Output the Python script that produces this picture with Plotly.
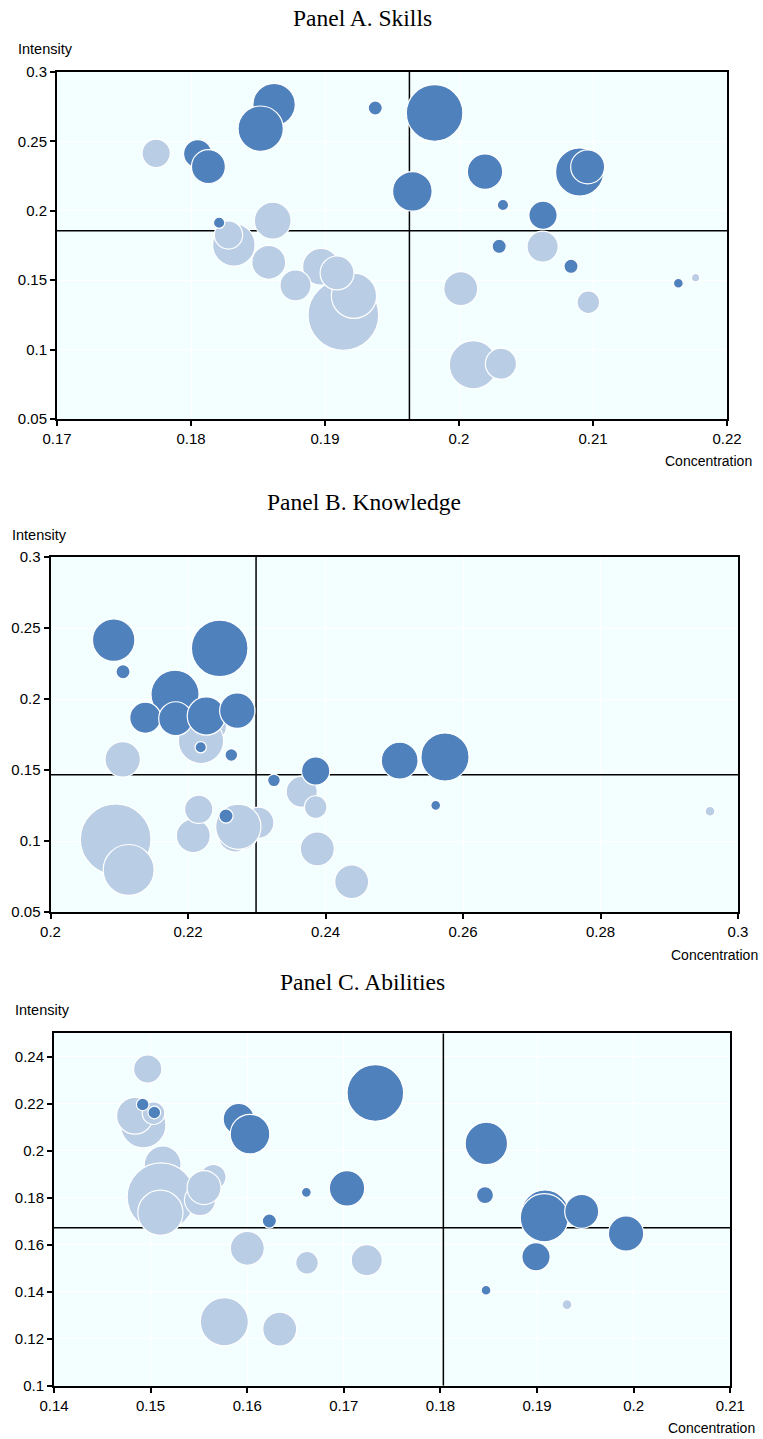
import plotly.graph_objects as go

W, H = 763, 1439

# ---- Panel A. Skills ----
a_conc = [0.19137, 0.19216, 0.1897, 0.1909, 0.1878, 0.1858, 0.1832, 0.1828, 0.1861, 0.1774,
          0.20107, 0.20313, 0.20013, 0.20624, 0.20965, 0.21766,
          0.1821, 0.1805, 0.1813, 0.1862, 0.1852, 0.19375, 0.19818, 0.19652, 0.20194, 0.2090,
          0.2096, 0.20328, 0.20627, 0.2030, 0.20836, 0.21637]
a_int = [0.1249, 0.1388, 0.1597, 0.1552, 0.1463, 0.1629, 0.1754, 0.1826, 0.1929, 0.2414,
         0.0891, 0.0898, 0.1439, 0.1742, 0.1341, 0.1518,
         0.1914, 0.2411, 0.2318, 0.2765, 0.2592, 0.2741, 0.2705, 0.2140, 0.2282, 0.2280,
         0.2316, 0.2042, 0.1968, 0.1744, 0.1600, 0.1478]
a_emp = [6.25, 2.56, 1.69, 1.44, 1.21, 1.44, 2.25, 1.0, 1.69, 1.0,
         2.89, 1.21, 1.44, 1.21, 0.64, 0.09,
         0.16, 1.0, 1.44, 2.25, 2.56, 0.25, 4.0, 1.96, 1.56, 2.89,
         1.44, 0.16, 1.0, 0.25, 0.25, 0.12]
a_high = [0] * 16 + [1] * 16
a_avg = (0.1963, 0.1857)

# ---- Panel B. Knowledge ----
b_conc = [0.20948, 0.21137, 0.2105, 0.22077, 0.22156, 0.22684, 0.2280, 0.23023, 0.22732, 0.22354,
          0.22189, 0.23654, 0.23857, 0.23881, 0.24381, 0.29593,
          0.20919, 0.21055, 0.22461, 0.21811, 0.21379, 0.21821, 0.22266, 0.22717, 0.22185, 0.2263,
          0.22553, 0.2325, 0.23857, 0.25079, 0.25738, 0.25603]
b_int = [0.1012, 0.0796, 0.1575, 0.1037, 0.1223, 0.1042, 0.1040, 0.1129, 0.1101, 0.1805,
         0.1704, 0.1347, 0.1239, 0.0944, 0.0713, 0.1209,
         0.2415, 0.2192, 0.2357, 0.2033, 0.1868, 0.1861, 0.1880, 0.1918, 0.1660, 0.1606,
         0.1176, 0.1427, 0.1493, 0.1566, 0.1592, 0.1251]
b_emp = [6.25, 3.24, 1.56, 1.44, 1.0, 1.44, 1.0, 1.21, 2.56, 1.0,
         2.56, 1.21, 0.64, 1.44, 1.44, 0.12,
         2.25, 0.25, 4.0, 2.89, 1.21, 1.44, 1.82, 1.56, 0.16, 0.2,
         0.25, 0.2, 1.0, 1.69, 2.89, 0.12]
b_high = [0] * 16 + [1] * 16
b_avg = (0.2299, 0.1467)

# ---- Panel C. Abilities ----
c_conc = [0.14924, 0.14838, 0.1503, 0.1497, 0.15125, 0.15108, 0.15101, 0.15511, 0.15649, 0.15553,
          0.16001, 0.16619, 0.17237, 0.15763, 0.16336, 0.1931,
          0.14918, 0.15038, 0.15912, 0.16029, 0.17326, 0.16612, 0.17033, 0.16229, 0.18475, 0.18461,
          0.19082, 0.19075, 0.19462, 0.19921, 0.18989, 0.18472]
c_int = [0.2109, 0.2149, 0.2160, 0.2348, 0.1942, 0.1804, 0.1736, 0.1790, 0.1888, 0.1843,
         0.1585, 0.1523, 0.1534, 0.1272, 0.1241, 0.1345,
         0.2197, 0.2163, 0.2135, 0.2071, 0.2246, 0.1823, 0.1840, 0.1701, 0.2031, 0.1811,
         0.1731, 0.1715, 0.1742, 0.1648, 0.1549, 0.1406]
c_emp = [2.56, 1.69, 0.64, 1.0, 1.69, 5.76, 2.56, 1.21, 0.81, 1.44,
         1.44, 0.64, 1.21, 2.89, 1.44, 0.12,
         0.2, 0.2, 1.21, 1.96, 4.0, 0.12, 1.56, 0.25, 2.25, 0.36,
         2.89, 2.89, 1.44, 1.56, 1.0, 0.12]
c_high = [0] * 16 + [1] * 16
c_avg = (0.1803, 0.1672)

DARK = "#4F81BD"
LIGHT = "#B9CDE5"
BG = "#F3FFFF"
SANS = "Liberation Sans, Arial, sans-serif"
SERIF = "Liberation Serif, Times New Roman, serif"


def px_x(x):
    return x / W


def px_y(y):
    return 1 - y / H


panels = [
    dict(title="Panel A. Skills", conc=a_conc, inten=a_int, emp=a_emp, high=a_high, avg=a_avg,
         box=(57, 727, 72, 419), xr=[0.17, 0.22], xd=0.01, yr=[0.05, 0.3], yd=0.05, y0=0.05,
         title_y=18, ylab=(45, 49), xlab=(708, 461)),
    dict(title="Panel B. Knowledge", conc=b_conc, inten=b_int, emp=b_emp, high=b_high, avg=b_avg,
         box=(50.5, 738, 557, 912), xr=[0.2, 0.3], xd=0.02, yr=[0.05, 0.3], yd=0.05, y0=0.05,
         title_y=502, ylab=(39, 535), xlab=(714, 955)),
    dict(title="Panel C. Abilities", conc=c_conc, inten=c_int, emp=c_emp, high=c_high, avg=c_avg,
         box=(54, 730.3, 1033.3, 1385.7), xr=[0.14, 0.21], xd=0.01, yr=[0.1, 0.25], yd=0.02, y0=0.1,
         title_y=982, ylab=(42, 1010), xlab=(711, 1428)),
]

fig = go.Figure()
annotations = []
layout_axes = {}

for i, p in enumerate(panels, start=1):
    xa = "x" if i == 1 else f"x{i}"
    ya = "y" if i == 1 else f"y{i}"
    x0, x1, y0, y1 = p["box"]
    cx, cy = p["avg"]

    # average reference lines, drawn beneath the bubbles
    ref_line = dict(mode="lines", xaxis=xa, yaxis=ya, line=dict(color="black", width=1.5),
                    hoverinfo="skip", showlegend=False, cliponaxis=True)
    fig.add_trace(go.Scatter(x=[cx, cx], y=p["yr"], **ref_line))
    fig.add_trace(go.Scatter(x=p["xr"], y=[cy, cy], **ref_line))

    fig.add_trace(go.Scatter(
        x=p["conc"], y=p["inten"], mode="markers", xaxis=xa, yaxis=ya,
        marker=dict(size=p["emp"], sizemode="area", sizeref=0.0025,
                    color=[DARK if h else LIGHT for h in p["high"]],
                    opacity=1, line=dict(color="white", width=1.2)),
        hoverinfo="x+y", showlegend=False, cliponaxis=True,
    ))

    axis_common = dict(showline=True, linecolor="black", linewidth=2, mirror=True,
                       ticks="outside", ticklen=5, tickwidth=1.5, tickcolor="black",
                       showgrid=True, gridcolor="white", gridwidth=1, zeroline=False,
                       automargin=False,
                       tickfont=dict(family=SANS, size=15, color="black"))
    layout_axes["xaxis" if i == 1 else f"xaxis{i}"] = dict(
        axis_common, domain=[px_x(x0), px_x(x1)], range=p["xr"], dtick=p["xd"], tick0=p["xr"][0],
        anchor=ya)
    layout_axes["yaxis" if i == 1 else f"yaxis{i}"] = dict(
        axis_common, domain=[px_y(y1), px_y(y0)], range=p["yr"], dtick=p["yd"], tick0=p["y0"],
        anchor=xa)

    annotations.append(dict(text=p["title"], x=px_x((x0 + x1) / 2 - 30), y=px_y(p["title_y"]),
                            xref="paper", yref="paper", showarrow=False, xanchor="center",
                            yanchor="middle", font=dict(family=SERIF, size=23.5, color="black")))
    annotations.append(dict(text="Intensity", x=px_x(p["ylab"][0]), y=px_y(p["ylab"][1]),
                            xref="paper", yref="paper", showarrow=False, xanchor="center",
                            yanchor="middle", font=dict(family=SANS, size=14.5, color="black")))
    annotations.append(dict(text="Concentration", x=px_x(p["xlab"][0]), y=px_y(p["xlab"][1]),
                            xref="paper", yref="paper", showarrow=False, xanchor="center",
                            yanchor="middle", font=dict(family=SANS, size=14, color="black")))

fig.update_layout(
    width=W, height=H, autosize=False,
    margin=dict(l=0, r=0, t=0, b=0, autoexpand=False),
    paper_bgcolor="white", plot_bgcolor=BG,
    annotations=annotations,
    **layout_axes,
)

fig.write_html("out.html")
